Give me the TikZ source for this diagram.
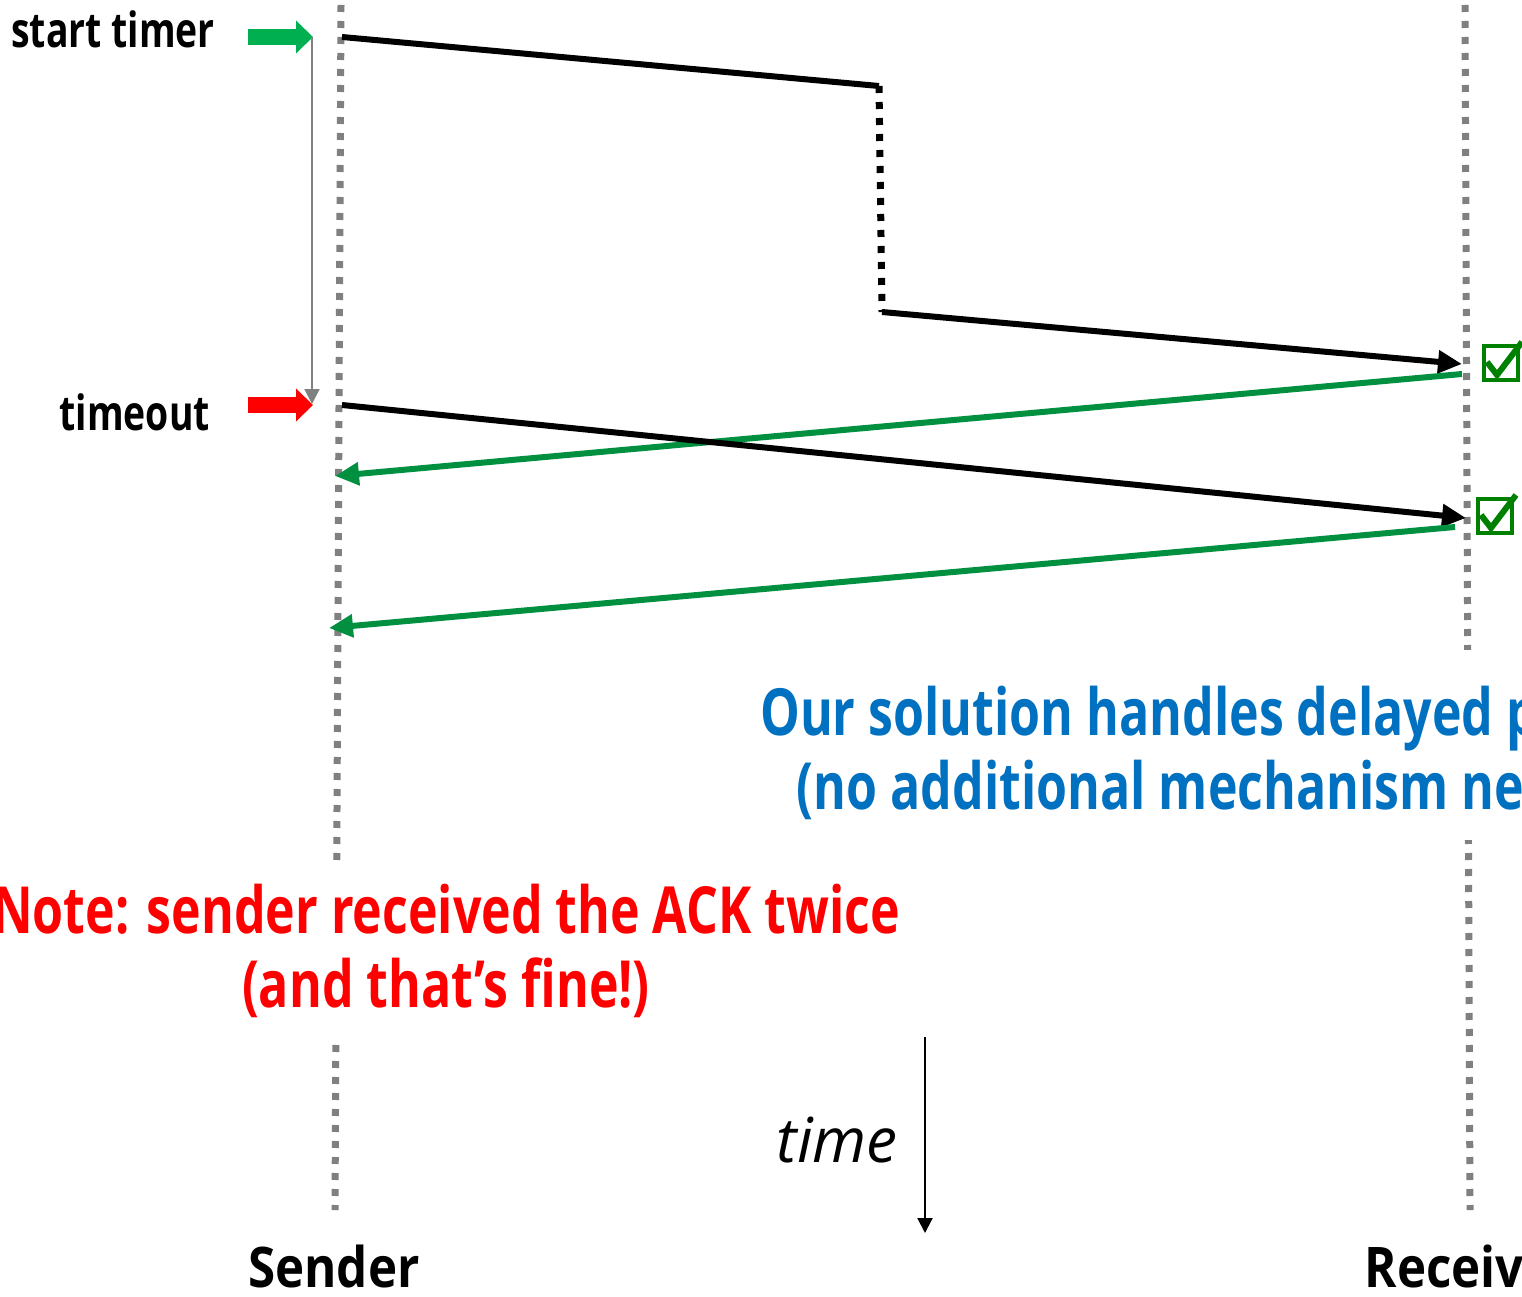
\documentclass[tikz,border=0pt]{standalone}
\usepackage{fontspec}
\setmainfont{Open Sans}[FakeStretch=0.77]
\newfontfamily\timefont{Open Sans}
\newfontfamily\hostfont{Open Sans}[FakeStretch=0.88]
\usetikzlibrary{arrows.meta}

\definecolor{ackgreen}{RGB}{0,144,64}
\definecolor{boxgreen}{RGB}{0,128,0}
\definecolor{timergreen}{RGB}{0,176,80}
\definecolor{notered}{RGB}{255,0,0}
\definecolor{noteblue}{RGB}{0,112,192}
\definecolor{lifegray}{RGB}{128,128,128}

\tikzset{
  lifeline/.style={lifegray, line width=7, dash pattern=on 7 off 9},
  pkt/.style={black, line width=6, -{Triangle[length=24pt,width=22pt]}},
  ack/.style={ackgreen, line width=6, -{Triangle[length=24pt,width=22pt]}},
  blockarrow/.style={line width=16, -{Triangle[length=17pt,width=32pt]}},
  thinarrow/.style={line width=2, -{Triangle[length=15pt,width=15pt]}},
  evtext/.style={inner sep=0, anchor=base east, font=\fontsize{48.5}{58}\selectfont\bfseries},
  bigtext/.style={inner sep=0, align=center, fill=white, font=\fontsize{65}{73.5}\selectfont\bfseries},
  host/.style={inner sep=0, anchor=base, font=\hostfont\fontsize{56}{66}\selectfont\bfseries},
  ackbox/.style={draw=boxgreen, line width=4, minimum size=34, inner sep=0},
  ackcheck/.pic={\draw[boxgreen, line width=6] (-14,-1) -- (-4,12) -- (21,-21);}
}

\begin{document}
\begin{tikzpicture}[x=1pt, y=-1pt]
  \useasboundingbox (0,0) rectangle (1522,1297);
  \clip (0,0) rectangle (1522,1297);

  % life lines
  \coordinate (snd top) at (341,5);
  \coordinate (snd bot) at (335,1210);
  \coordinate (rcv top) at (1465,5);
  \coordinate (rcv bot) at (1470,1210);
  \draw[lifeline] (snd top) -- (snd bot);
  \draw[lifeline] (rcv top) -- (rcv bot);

  % timer
  \coordinate (start0) at (248,37);
  \coordinate (start1) at (313,37);
  \coordinate (tout0) at (248,405);
  \coordinate (tout1) at (313,405);
  \coordinate (timer0) at (312,37);
  \coordinate (timer1) at (312,404);
  \draw[blockarrow, timergreen] (start0) -- (start1);
  \draw[blockarrow, notered] (tout0) -- (tout1);
  \draw[thinarrow, lifegray] (timer0) -- (timer1);
  \node[evtext] (start) at (215,48) {start timer};
  \node[evtext] (timeout) at (210,430) {timeout};

  % first packet, held up on the way
  \coordinate (p1) at (342,37);
  \coordinate (p1a) at (879,86);
  \coordinate (p1b) at (882,312);
  \coordinate (p1r) at (1462,364);
  \draw[black, line width=6] (p1) -- (p1a);
  \draw[black, line width=7, dash pattern=on 7 off 9] (p1a) -- (p1b);
  \draw[pkt] (p1b) -- (p1r);

  % acks and the resent packet
  \coordinate (a1r) at (1462,374);
  \coordinate (a1s) at (335,476);
  \coordinate (p2) at (342,405);
  \coordinate (p2r) at (1466,518);
  \coordinate (a2r) at (1455,527);
  \coordinate (a2s) at (329,628);
  \draw[ack] (a1r) -- (a1s);
  \draw[pkt] (p2) -- (p2r);
  \draw[ack] (a2r) -- (a2s);

  \node[ackbox] (ack1) at (1501,363) {};
  \node[ackbox] (ack2) at (1495,516) {};
  \pic at (ack1.center) {ackcheck};
  \pic at (ack2.center) {ackcheck};

  % notes
  \node[bigtext, text=noteblue, anchor=west, minimum height=190] (solution) at (760,745)
    {\rule{0pt}{65pt}Our solution handles delayed packets\\(no additional mechanism needed)};
  \node[bigtext, text=notered, minimum height=175] (note) at (446,951)
    {Note: sender received the ACK twice\\(and that’s fine!)};

  % time axis
  \coordinate (time0) at (925,1037);
  \coordinate (time1) at (925,1233);
  \draw[thinarrow, black] (time0) -- (time1);
  \node[inner sep=0, anchor=base east, font=\timefont\fontsize{62}{70}\selectfont\itshape] (time) at (898,1162) {time};

  \node[host] (sender) at (334,1287) {Sender};
  \node[host] (receiver) at (1470,1287) {Receiver};
\end{tikzpicture}
\end{document}
